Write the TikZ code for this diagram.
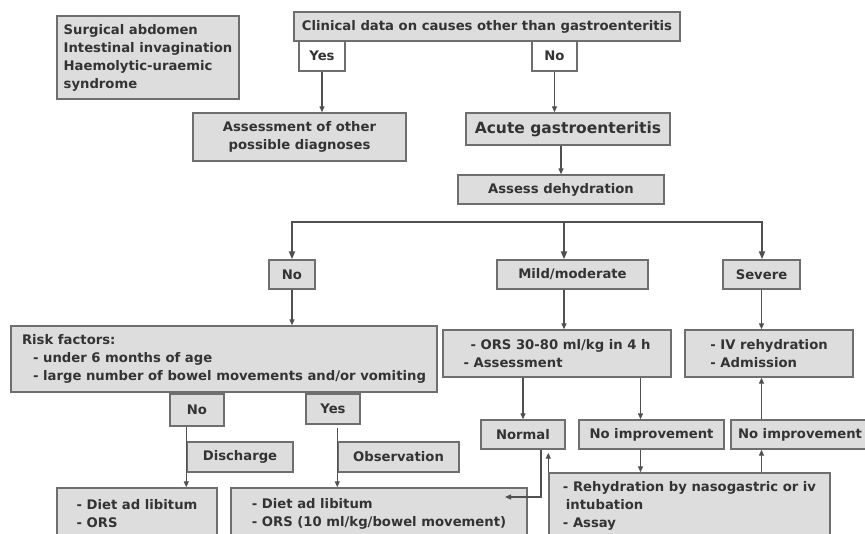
\documentclass[tikz,border=0pt]{standalone}
\usepackage{fontspec}
\setmainfont{DejaVu Sans}
\usetikzlibrary{arrows.meta}
\definecolor{boxfill}{RGB}{221,221,221}
\definecolor{boxline}{RGB}{110,110,110}
\definecolor{linkline}{RGB}{80,80,80}

\begin{document}
\begin{tikzpicture}[x=1pt,y=-1pt,
  >={Triangle[length=6pt,width=5pt]},
  every node/.style={font=\bfseries\fontsize{13.2}{18}\selectfont,text=black!80},
  box/.style={draw=boxline,fill=boxfill,line width=1.4pt,inner sep=2pt,align=left},
  answer/.style={box,fill=white},
  link/.style={draw=linkline,line width=1.3pt,->},
  fork/.style={draw=linkline,line width=2.2pt,>={Triangle[length=8pt,width=6pt]}}]
\useasboundingbox (0,0) rectangle (865,534);
\clip (0,0) rectangle (865,534);

% top part
\node[box,minimum width=182pt,minimum height=83pt] (surgical) at (148,57.5) {Surgical abdomen\\Intestinal invagination\\Haemolytic-uraemic\\syndrome};
\node[box,minimum width=386pt,minimum height=29pt] (clinical) at (487,26.5) {Clinical data on causes other than gastroenteritis};
\node[answer,minimum width=46pt,minimum height=30pt] (yesTop) at (322,56) {Yes};
\node[answer,minimum width=45pt,minimum height=30pt] (noTop) at (554.5,56) {No};
\node[box,align=center,minimum width=213pt,minimum height=48pt] (other) at (299.5,137) {Assessment of other\\possible diagnoses};
\node[box,minimum width=204pt,minimum height=32pt,font=\bfseries\fontsize{15.5}{18}\selectfont] (acute) at (568,129) {Acute gastroenteritis};
\node[box,minimum width=206pt,minimum height=29pt] (dehyd) at (561,189.5) {Assess dehydration};

% dehydration degrees
\node[box,minimum width=46pt,minimum height=29pt] (dehydNo) at (292,274.5) {No};
\node[box,minimum width=151pt,minimum height=29pt] (mild) at (572.5,274.5) {Mild/moderate};
\node[box,minimum width=77pt,minimum height=29pt] (severe) at (761.5,274.5) {Severe};
\coordinate (fork) at (564,222);
\coordinate (forkL) at (292,222);
\coordinate (forkR) at (762,222);

\node[box,minimum width=426pt,minimum height=66pt] (risk) at (224,359) {Risk factors:\\\hspace*{11pt}- under 6 months of age\\\hspace*{11pt}- large number of bowel movements and/or vomiting};
\node[box,minimum width=228pt,minimum height=47pt] (ors) at (557,353.5) {\hspace*{7pt}- ORS 30-80 ml/kg in 4 h\\- Assessment};
\node[box,minimum width=168pt,minimum height=47pt] (iv) at (769,353.5) {- IV rehydration\\- Admission};

% risk answers
\node[box,minimum width=54pt,minimum height=32pt] (riskNo) at (197,410) {No};
\node[box,minimum width=54pt,minimum height=30pt] (riskYes) at (333,409) {Yes};
\node[box,minimum width=106pt,minimum height=30pt] (discharge) at (240,457) {Discharge};
\node[box,minimum width=121pt,minimum height=30pt] (observation) at (398.5,457) {Observation};
\node[box,minimum width=160pt,minimum height=52pt] (dietHome) at (137,514) {- Diet ad libitum\\- ORS};
\node[box,minimum width=296pt,minimum height=52pt] (dietObs) at (379,514) {- Diet ad libitum\\- ORS (10 ml/kg/bowel movement)};

% ORS results
\node[box,minimum width=84pt,minimum height=29pt] (normal) at (523,434.5) {Normal};
\node[box,minimum width=145pt,minimum height=29pt] (noImpOrs) at (651.5,434.5) {No improvement};
\node[box,minimum width=138pt,minimum height=29pt] (noImpIv) at (800,434.5) {No improvement};
\node[box,minimum width=281pt,minimum height=66pt] (rehyd) at (689.5,506) {- Rehydration by nasogastric or iv\\\hspace*{3pt}intubation\\- Assay};
\coordinate (normalTip) at (505,497);

% connectors
\draw[link] (yesTop) -- (yesTop |- other.north);
\draw[link] (noTop) -- (noTop |- acute.north);
\draw[link] (acute.south -| dehyd.north) -- (dehyd.north);
\draw[fork,<->] (dehydNo.north) -- (forkL) -- (forkR) -- (forkR |- severe.north);
\draw[fork,->] (fork) -- (fork |- mild.north);
\draw[link] (dehydNo) -- (dehydNo |- risk.north);
\draw[link] (mild.south -| fork) -- (fork |- ors.north);
\draw[link] (severe) -- (severe |- iv.north);
\draw[link] (riskNo.south -| discharge.west) -- (discharge.west |- dietHome.north);
\draw[link] ([yshift=-3pt]riskYes.south -| observation.west) -- (observation.west |- dietObs.north);
\draw[link] (ors.south -| normal) -- (normal.north);
\draw[link] ([xshift=-11pt]noImpOrs.north |- ors.south) -- ([xshift=-11pt]noImpOrs.north);
\draw[link] ([xshift=-11pt]noImpOrs.south) -- ([xshift=-11pt]noImpOrs.south |- rehyd.north);
\draw[link] (rehyd.north -| severe) -- (severe |- noImpIv.south);
\draw[link] (noImpIv.north -| severe) -- (severe |- iv.south);
\draw[link] ([xshift=18pt]normal.south) |- (normalTip);
\draw[link,shorten >=3pt] (rehyd.north west) -- (rehyd.north west |- normal.south);
\end{tikzpicture}
\end{document}
